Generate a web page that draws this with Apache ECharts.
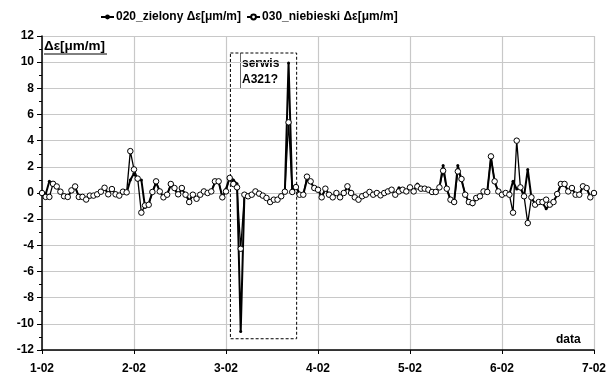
<!DOCTYPE html>
<html>
<head>
<meta charset="utf-8">
<script src="https://cdn.jsdelivr.net/npm/echarts@6/dist/echarts.min.js"></script>
<style>
  html, body { margin: 0; padding: 0; background: #fff; }
  #chart { width: 609px; height: 376px; }
</style>
</head>
<body>
<div id="chart"></div>
<script>
// month labels, one every 25 samples
const monthLabels = ['1-02', '2-02', '3-02', '4-02', '5-02', '6-02', '7-02']
const perMonth = 25

// 020_zielony (filled dots)
const zielony = [
  0, -0.1, 0.9, 0.6, 0.5, 0.1, -0.25, -0.3, 0.15, 0.45,
  -0.25, -0.3, -0.4, -0.3, -0.2, -0.1, 0.1, 0.3, 0, 0.25,
  0, -0.1, 0.05, 0, 1.0, 1.5, 1.0, 1.0, -1.1, -0.8,
  0.05, 0.8, 0.15, -0.3, -0.1, 0.6, 0.35, -0.2, 0.3, -0.1,
  -0.6, -0.15, -0.4, -0.15, 0.1, 0.05, 0.1, 0.8, 0.85, -0.3,
  0.3, 1.2, 1.0, 0.7, -10.58, -0.2, -0.25, -0.15, 0.1, -0.05,
  -0.2, -0.35, -0.65, -0.5, -0.5, -0.25, 0.1, 9.94, 0.1, 0.6,
  -0.1, -0.1, 1.0, 0.8, 0.4, 0.25, -0.3, 0.3, -0.1, -0.3,
  0, -0.3, 0, 0.45, 0, -0.3, -0.45, -0.25, -0.1, 0.05,
  -0.1, 0, -0.15, 0, 0.1, 0.25, -0.1, 0.4, 0.25, 0.1,
  0.4, 0.15, 0.69, 0.35, 0.3, 0.25, 0.08, 0.1, 0.4, 2.1,
  0.3, -0.5, -0.65, 2.1, 1.0, -0.1, -0.7, -0.89, -0.4, -0.25,
  0.1, 0.1, 2.7, 0.85, 0.1, -0.1, 0, -0.1, 0.9, 0.3,
  0.4, -0.25, 1.8, -0.35, -0.85, -0.7, -0.75, -1.2, -0.9, -0.7,
  -0.1, 0.65, 0.65, 0.15, 0.35, -0.1, -0.15, 0.5, 0.35, -0.3,
  0
]

// 030_niebieski (open circles)
const niebieski = [
  0, -0.3, -0.3, 0.7, 0.5, 0.1, -0.25, -0.3, 0.2, 0.5,
  -0.3, -0.3, -0.5, -0.2, -0.2, -0.1, 0.1, 0.4, -0.1, 0.3,
  -0.1, -0.2, 0.1, 0.05, 3.2, 1.8, 1.1, -1.5, -0.95, -0.9,
  0.08, 0.89, 0.12, -0.33, -0.13, 0.69, 0.38, -0.1, 0.38, -0.13,
  -0.69, -0.13, -0.44, -0.13, 0.12, 0, 0.12, 0.89, 0.89, -0.33,
  0.12, 1.15, 0.69, 0.43, -4.26, -0.13, -0.25, -0.13, 0.12, -0.05,
  -0.2, -0.38, -0.69, -0.51, -0.51, -0.25, 0.1, 5.4, 0.08, 0.45,
  -0.13, -0.13, 1.25, 0.89, 0.38, 0.25, -0.33, 0.33, -0.13, -0.33,
  0, -0.33, 0, 0.51, 0, -0.33, -0.51, -0.25, -0.13, 0.08,
  -0.13, 0, -0.18, 0, 0.12, 0.25, -0.13, 0.12, 0.25, 0.12,
  0.43, 0.12, 0.5, 0.33, 0.33, 0.25, 0.08, 0.08, 0.43, 1.7,
  0.33, -0.51, -0.69, 1.65, 1.07, -0.13, -0.69, -0.77, -0.38, -0.25,
  0.12, 0.08, 2.8, 0.89, 0.12, -0.13, 0, -0.13, -1.5, 4.0,
  0.43, -0.25, -2.3, -0.33, -0.89, -0.69, -0.69, -0.51, -0.89, -0.69,
  -0.08, 0.69, 0.69, 0.12, 0.38, -0.13, -0.13, 0.51, 0.38, -0.33,
  0
]

const chart = echarts.init(document.getElementById('chart'))
const font = 'Liberation Sans, Arial, sans-serif'

const option = {
  animation: false,
  textStyle: { fontFamily: font },
  legend: {
    left: 100,
    top: 11,
    padding: 0,
    itemWidth: 13,
    itemHeight: 6,
    itemGap: 5,
    textStyle: { fontFamily: font, fontWeight: 'bold', fontSize: 12, color: '#000', padding: [0, 0, 0, -3] },
    data: ['020_zielony Δε[μm/m]', '030_niebieski Δε[μm/m]']
  },
  grid: { left: 42, right: 14, top: 36, bottom: 26 },
  xAxis: {
    type: 'value',
    min: 0,
    max: perMonth * (monthLabels.length - 1),
    interval: perMonth,
    axisLine: { onZero: false, lineStyle: { color: '#000', width: 1.5 } },
    axisTick: { show: true, length: 4, lineStyle: { color: '#000' } },
    axisLabel: {
      margin: 13,
      fontFamily: font, fontWeight: 'bold', fontSize: 12, color: '#000',
      formatter: v => monthLabels[Math.round(v / perMonth)]
    },
    splitLine: { show: true, lineStyle: { color: '#c8c8c8', width: 1.2 } }
  },
  yAxis: {
    type: 'value',
    min: -12,
    max: 12,
    interval: 2,
    axisLine: { show: true, lineStyle: { color: '#000', width: 1.5 } },
    axisTick: { show: true, length: 5, lineStyle: { color: '#000' } },
    minorTick: { show: true, splitNumber: 2, length: 3, lineStyle: { color: '#000' } },
    axisLabel: { margin: 8, fontFamily: font, fontWeight: 'bold', fontSize: 12, color: '#000' },
    splitLine: { show: true, lineStyle: { color: '#c8c8c8', width: 1.2 } }
  },
  series: [
    {
      name: '020_zielony Δε[μm/m]',
      type: 'line',
      data: zielony.map((v, i) => [i, v]),
      symbol: 'circle',
      symbolSize: 3,
      itemStyle: { color: '#000' },
      lineStyle: { color: '#000', width: 2 },
      markArea: {
        silent: true,
        itemStyle: { color: 'rgba(0,0,0,0)', borderColor: '#000', borderWidth: 1, borderType: [3, 2] },
        data: [[{ coord: [51.2, 10.7] }, { coord: [69.2, -11.14] }]]
      }
    },
    {
      name: '030_niebieski Δε[μm/m]',
      type: 'line',
      data: niebieski.map((v, i) => [i, v]),
      symbol: 'circle',
      symbolSize: 5.5,
      itemStyle: { color: '#fff', borderColor: '#000', borderWidth: 1 },
      lineStyle: { color: '#000', width: 1.3 }
    }
  ],
  graphic: [
    {
      type: 'text', left: 44, top: 39,
      style: { text: 'Δε[μm/m]', fontFamily: font, fontWeight: 'bold', fontSize: 13.5, fill: '#000' }
    },
    {
      type: 'line', shape: { x1: 44, y1: 54, x2: 107, y2: 54 },
      style: { stroke: '#000', lineWidth: 1 }
    },
    {
      type: 'line', shape: { x1: 240.5, y1: 53, x2: 240.5, y2: 89 },
      style: { stroke: '#000', lineWidth: 0.6 }
    },
    {
      type: 'text', left: 242, top: 56,
      style: { text: 'serwis\nA321?', lineHeight: 16, fontFamily: font, fontWeight: 'bold', fontSize: 12, fill: '#000' }
    },
    {
      type: 'text', left: 556, top: 334,
      style: { text: 'data', fontFamily: font, fontWeight: 'bold', fontSize: 12, fill: '#000' }
    }
  ]
}

chart.setOption(option)
</script>
</body>
</html>
